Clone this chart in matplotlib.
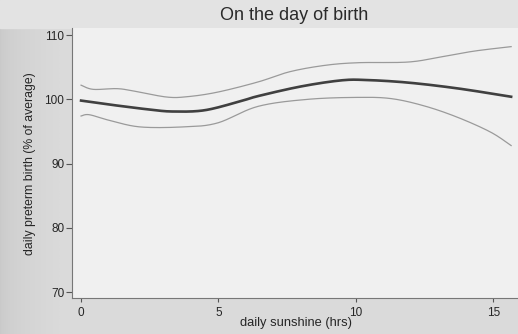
import numpy as np
import matplotlib
matplotlib.use("Agg")
import matplotlib.pyplot as plt
from matplotlib.patches import Rectangle

plt.rcParams['font.family'] = ['Liberation Sans', 'DejaVu Sans']

# Data
x_mid = [0.0, 1.0, 2.5, 3.35, 4.5, 5.8, 6.44, 8.0, 9.47, 10.4, 11.9, 13.7, 15.65]
y_mid = [99.8, 99.2, 98.4, 98.1, 98.3, 99.7, 100.5, 102.0, 102.95, 103.0, 102.6, 101.7, 100.4]

x_up = [0.0, 0.44, 1.3, 1.9, 3.1, 3.85, 4.95, 6.44, 7.6, 8.9, 10.1, 11.9, 13.1, 14.3, 15.65]
y_up = [102.2, 101.55, 101.66, 101.3, 100.36, 100.4, 101.1, 102.7, 104.3, 105.3, 105.7, 105.8, 106.6, 107.5, 108.2]

x_lo = [0.0, 0.3, 1.05, 2.15, 3.7, 4.95, 6.44, 8.26, 10.1, 11.3, 12.5, 13.7, 14.9, 15.65]
y_lo = [97.4, 97.6, 96.7, 95.7, 95.7, 96.3, 98.9, 100.0, 100.3, 100.1, 98.96, 97.2, 94.9, 92.8]

x_ticks = [0, 5, 10, 15]
y_ticks = [70, 80, 90, 100, 110]

W, H = 518, 334
fig = plt.figure(figsize=(W / 100, H / 100), dpi=100)
fig.patch.set_facecolor('#dadada')

# background: gradient on the left margin and lighter title band
bg = fig.add_axes([0, 0, 1, 1], zorder=-10)
bg.set_xlim(0, W)
bg.set_ylim(H, 0)
bg.axis('off')
n = 60
g = np.linspace(0, 1, n)
shade = (0xc9 + (0xda - 0xc9) * np.sqrt(g)) / 255.0
img = np.ones((2, n, 3)) * shade[None, :, None]
bg.imshow(img, extent=[0, 60, H, 0], aspect='auto', interpolation='bilinear')
bg.add_patch(Rectangle((0, 0), W, 28, color='#e3e3e3', zorder=2))

def smooth(xs, ys):
    xs = np.asarray(xs, float)
    ys = np.asarray(ys, float)
    pts = list(zip(xs, ys))
    out_x, out_y = [], []
    P = [pts[0]] + pts + [pts[-1]]
    for i in range(1, len(P) - 2):
        p0, p1, p2, p3 = map(np.array, (P[i - 1], P[i], P[i + 1], P[i + 2]))
        t = np.linspace(0, 1, 30, endpoint=False)[:, None]
        c = 0.5 * ((2 * p1) + (-p0 + p2) * t + (2 * p0 - 5 * p1 + 4 * p2 - p3) * t ** 2
                   + (-p0 + 3 * p1 - 3 * p2 + p3) * t ** 3)
        out_x.extend(c[:, 0]); out_y.extend(c[:, 1])
    out_x.append(xs[-1]); out_y.append(ys[-1])
    return np.array(out_x), np.array(out_y)

left, right = 72 / W, 1.0
bottom, top = 1 - 298 / H, 1 - 28 / H
ax = fig.add_axes([left, bottom, right - left, top - bottom])
ax.set_facecolor('#f0f0f0')

xs, ys = smooth(x_up, y_up)
ax.plot(xs, ys, color='#9a9a9a', lw=0.9)
xs, ys = smooth(x_lo, y_lo)
ax.plot(xs, ys, color='#9a9a9a', lw=0.9)
xs, ys = smooth(x_mid, y_mid)
ax.plot(xs, ys, color='#404040', lw=1.9)

ax.set_xlim(-0.33, 15.9)
ax.set_ylim(69.07, 111.1)
ax.set_xticks(x_ticks)
ax.set_yticks(y_ticks)
ax.tick_params(axis='both', colors='#555555', labelcolor='#262626', labelsize=8.5, length=4, width=0.8, pad=1.5)
ax.tick_params(axis='x', length=3, pad=3.5)
for s in ['top', 'right']:
    ax.spines[s].set_visible(False)
for s in ['left', 'bottom']:
    ax.spines[s].set_color('#777777')
    ax.spines[s].set_linewidth(0.8)

fig.text(294 / W, 1 - 15 / H, 'On the day of birth', ha='center', va='center', fontsize=13, color='#2a2a2a')
fig.text(296 / W, 1 - 323 / H, 'daily sunshine (hrs)', ha='center', va='center', fontsize=9.3, color='#262626')
fig.text(30 / W, 1 - 164 / H, 'daily preterm birth (% of average)', ha='center', va='center', rotation=90, fontsize=8.8, color='#262626')

fig.savefig('out.png', dpi=100, facecolor=fig.get_facecolor())
